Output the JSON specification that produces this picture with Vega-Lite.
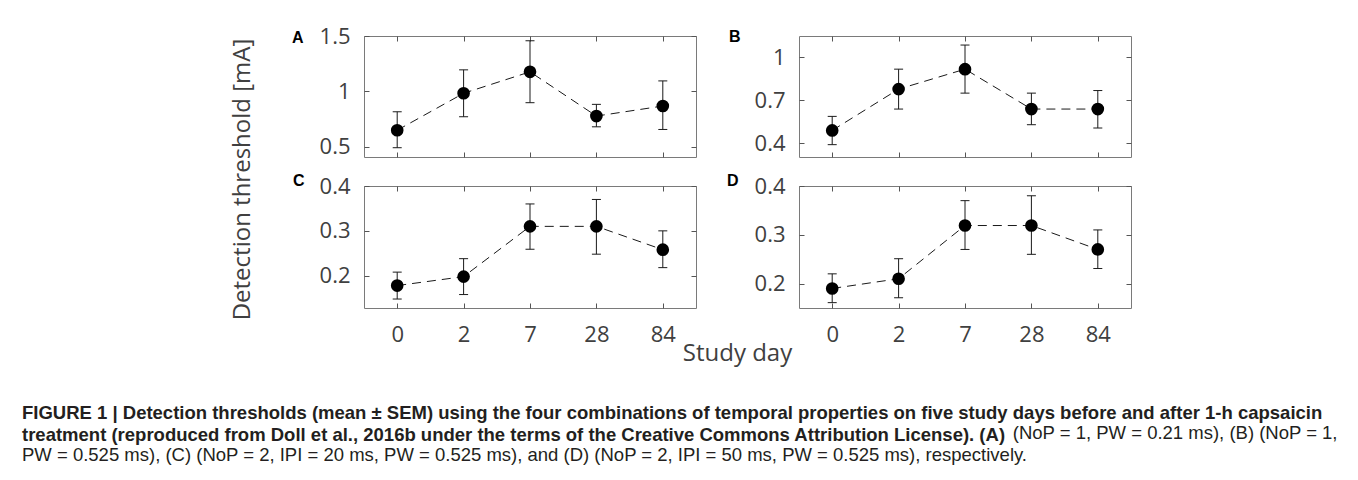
{
  "$schema": "https://vega.github.io/schema/vega-lite/v6.json",
  "padding": {"left": 22, "top": 24, "right": 20, "bottom": 5},
  "background": "white",
  "datasets": {
    "thr": [
      {"panel": "A", "day": 0, "mean": 0.648, "lo": 0.49, "hi": 0.815},
      {"panel": "A", "day": 2, "mean": 0.982, "lo": 0.77, "hi": 1.194},
      {"panel": "A", "day": 7, "mean": 1.176, "lo": 0.897, "hi": 1.457},
      {"panel": "A", "day": 28, "mean": 0.776, "lo": 0.679, "hi": 0.882},
      {"panel": "A", "day": 84, "mean": 0.867, "lo": 0.655, "hi": 1.094},
      {"panel": "B", "day": 0, "mean": 0.49, "lo": 0.391, "hi": 0.588},
      {"panel": "B", "day": 2, "mean": 0.778, "lo": 0.639, "hi": 0.917},
      {"panel": "B", "day": 7, "mean": 0.917, "lo": 0.75, "hi": 1.085},
      {"panel": "B", "day": 28, "mean": 0.639, "lo": 0.53, "hi": 0.75},
      {"panel": "B", "day": 84, "mean": 0.639, "lo": 0.507, "hi": 0.768},
      {"panel": "C", "day": 0, "mean": 0.178, "lo": 0.148, "hi": 0.208},
      {"panel": "C", "day": 2, "mean": 0.198, "lo": 0.158, "hi": 0.238},
      {"panel": "C", "day": 7, "mean": 0.31, "lo": 0.259, "hi": 0.36},
      {"panel": "C", "day": 28, "mean": 0.31, "lo": 0.248, "hi": 0.37},
      {"panel": "C", "day": 84, "mean": 0.258, "lo": 0.218, "hi": 0.3},
      {"panel": "D", "day": 0, "mean": 0.19, "lo": 0.161, "hi": 0.22},
      {"panel": "D", "day": 2, "mean": 0.21, "lo": 0.171, "hi": 0.251},
      {"panel": "D", "day": 7, "mean": 0.319, "lo": 0.27, "hi": 0.37},
      {"panel": "D", "day": 28, "mean": 0.319, "lo": 0.26, "hi": 0.38},
      {"panel": "D", "day": 84, "mean": 0.27, "lo": 0.231, "hi": 0.31}
    ]
  },
  "config": {
    "view": {"stroke": "#7a7a7a", "strokeWidth": 1},
    "axis": {
      "grid": false, "domain": false, "tickColor": "#555555", "tickSize": -5, "tickWidth": 1,
      "labelFont": "Open Sans", "labelFontSize": 22, "labelColor": "#404040",
      "titleFont": "Open Sans", "titleFontSize": 24, "titleColor": "#404040", "titleFontWeight": "normal",
      "labelFlush": false, "labelOverlap": false
    }
  },
  "title": {
    "text": [
      "FIGURE 1 | Detection thresholds (mean ± SEM) using the four combinations of temporal properties on five study days before and after 1-h capsaicin",
      "treatment (reproduced from Doll et al., 2016b under the terms of the Creative Commons Attribution License). (A)"
    ],
    "subtitle": [
      "\u200b\u2003\u2003\u2003\u2003\u2003\u2003\u2003\u2003\u2003\u2003\u2003\u2003\u2003\u2003\u2003\u2003\u2003\u2003\u2003\u2003\u2003\u2003\u2003\u2003\u2003\u2003\u2003\u2003\u2003\u2003\u2003\u2003\u2003\u2003\u2003\u2003\u2003\u2003\u2003\u2003\u2003\u2003\u2003\u2003\u2003\u2003\u2003\u2003\u2003\u2003\u2003\u2003\u2003\u00a0\u00a0(NoP = 1, PW = 0.21 ms), (B) (NoP = 1,",
      "PW = 0.525 ms), (C) (NoP = 2, IPI = 20 ms, PW = 0.525 ms), and (D) (NoP = 2, IPI = 50 ms, PW = 0.525 ms), respectively."
    ],
    "orient": "bottom", "anchor": "start", "frame": "group",
    "font": "Liberation Sans", "fontSize": 18.5, "fontWeight": "bold", "color": "#231f20", "lineHeight": 22.5,
    "subtitleFont": "Liberation Sans", "subtitleFontSize": 18.5, "subtitleFontWeight": "normal", "subtitleColor": "#231f20", "subtitleLineHeight": 22.5,
    "subtitlePadding": -21, "offset": 38, "dx": -342
  },
  "columns": 2,
  "spacing": {"row": 29, "column": 103},
  "bounds": "flush",
  "concat": [
    {
      "width": 332, "height": 121,
      "title": {"text": "A", "anchor": "start", "frame": "group", "orient": "top", "offset": 0, "baseline": "alphabetic", "dx": -72, "dy": 34, "font": "Liberation Sans", "fontSize": 16, "fontWeight": "bold", "color": "#000000"},
      "data": {"name": "thr"},
      "transform": [{"filter": "datum.panel === 'A'"}],
      "layer": [
        {"mark": {"type": "line", "color": "#1a1a1a", "strokeWidth": 1, "strokeDash": [9, 6]},
         "encoding": {
           "x": {"field": "day", "type": "ordinal", "scale": {"type": "point", "padding": 0.5}, "axis": {"orient": "bottom", "labels": false, "title": null}},
           "y": {"field": "mean", "type": "quantitative", "scale": {"domain": [0.406, 1.5], "nice": false, "zero": false}, "axis": {"orient": "left", "values": [0.5, 1, 1.5], "format": "~g", "labelPadding": 19, "title": "Detection threshold [mA]", "titleX": -115, "titleY": 143, "titleAngle": 270, "titleAlign": "center", "titleBaseline": "alphabetic"}}
         }},
        {"mark": {"type": "rule", "color": "#1a1a1a", "strokeWidth": 1},
         "encoding": {"x": {"field": "day", "type": "ordinal", "axis": null}, "y": {"field": "lo", "type": "quantitative", "axis": null}, "y2": {"field": "hi"}}},
        {"mark": {"type": "tick", "color": "#1a1a1a", "size": 9, "thickness": 1, "opacity": 1},
         "encoding": {"x": {"field": "day", "type": "ordinal", "axis": null}, "y": {"field": "lo", "type": "quantitative", "axis": null}}},
        {"mark": {"type": "tick", "color": "#1a1a1a", "size": 9, "thickness": 1, "opacity": 1},
         "encoding": {"x": {"field": "day", "type": "ordinal", "axis": null}, "y": {"field": "hi", "type": "quantitative", "axis": null}}},
        {"mark": {"type": "point", "filled": true, "color": "#000000", "opacity": 1, "size": 160},
         "encoding": {"x": {"field": "day", "type": "ordinal", "axis": {"orient": "top", "labels": false, "title": null}}, "y": {"field": "mean", "type": "quantitative", "axis": {"orient": "right", "values": [0.5, 1, 1.5], "labels": false, "title": null}}}}
      ],
      "resolve": {"axis": {"x": "independent", "y": "independent"}}
    },
    {
      "width": 332, "height": 121,
      "title": {"text": "B", "anchor": "start", "frame": "group", "orient": "top", "offset": 0, "baseline": "alphabetic", "dx": -70, "dy": 22, "font": "Liberation Sans", "fontSize": 16, "fontWeight": "bold", "color": "#000000"},
      "data": {"name": "thr"},
      "transform": [{"filter": "datum.panel === 'B'"}],
      "layer": [
        {"mark": {"type": "line", "color": "#1a1a1a", "strokeWidth": 1, "strokeDash": [9, 6]},
         "encoding": {
           "x": {"field": "day", "type": "ordinal", "scale": {"type": "point", "padding": 0.5}, "axis": {"orient": "bottom", "labels": false, "title": null}},
           "y": {"field": "mean", "type": "quantitative", "scale": {"domain": [0.305, 1.148], "nice": false, "zero": false}, "axis": {"orient": "left", "values": [0.4, 0.7, 1], "format": "~g", "labelPadding": 19, "title": null}}
         }},
        {"mark": {"type": "rule", "color": "#1a1a1a", "strokeWidth": 1},
         "encoding": {"x": {"field": "day", "type": "ordinal", "axis": null}, "y": {"field": "lo", "type": "quantitative", "axis": null}, "y2": {"field": "hi"}}},
        {"mark": {"type": "tick", "color": "#1a1a1a", "size": 9, "thickness": 1, "opacity": 1},
         "encoding": {"x": {"field": "day", "type": "ordinal", "axis": null}, "y": {"field": "lo", "type": "quantitative", "axis": null}}},
        {"mark": {"type": "tick", "color": "#1a1a1a", "size": 9, "thickness": 1, "opacity": 1},
         "encoding": {"x": {"field": "day", "type": "ordinal", "axis": null}, "y": {"field": "hi", "type": "quantitative", "axis": null}}},
        {"mark": {"type": "point", "filled": true, "color": "#000000", "opacity": 1, "size": 160},
         "encoding": {"x": {"field": "day", "type": "ordinal", "axis": {"orient": "top", "labels": false, "title": null}}, "y": {"field": "mean", "type": "quantitative", "axis": {"orient": "right", "values": [0.4, 0.7, 1], "labels": false, "title": null}}}}
      ],
      "resolve": {"axis": {"x": "independent", "y": "independent"}}
    },
    {
      "width": 332, "height": 122,
      "title": {"text": "C", "anchor": "start", "frame": "group", "orient": "top", "offset": 0, "baseline": "alphabetic", "dx": -71, "dy": 27, "font": "Liberation Sans", "fontSize": 16, "fontWeight": "bold", "color": "#000000"},
      "data": {"name": "thr"},
      "transform": [{"filter": "datum.panel === 'C'"}],
      "layer": [
        {"mark": {"type": "line", "color": "#1a1a1a", "strokeWidth": 1, "strokeDash": [9, 6]},
         "encoding": {
           "x": {"field": "day", "type": "ordinal", "scale": {"type": "point", "padding": 0.5}, "axis": {"orient": "bottom", "labelAngle": 0, "labelPadding": 21, "title": "Study day", "titleX": 373, "titleY": 52, "titleAlign": "center", "titleBaseline": "alphabetic"}},
           "y": {"field": "mean", "type": "quantitative", "scale": {"domain": [0.128, 0.4], "nice": false, "zero": false}, "axis": {"orient": "left", "values": [0.2, 0.3, 0.4], "format": "~g", "labelPadding": 19, "title": null}}
         }},
        {"mark": {"type": "rule", "color": "#1a1a1a", "strokeWidth": 1},
         "encoding": {"x": {"field": "day", "type": "ordinal", "axis": null}, "y": {"field": "lo", "type": "quantitative", "axis": null}, "y2": {"field": "hi"}}},
        {"mark": {"type": "tick", "color": "#1a1a1a", "size": 9, "thickness": 1, "opacity": 1},
         "encoding": {"x": {"field": "day", "type": "ordinal", "axis": null}, "y": {"field": "lo", "type": "quantitative", "axis": null}}},
        {"mark": {"type": "tick", "color": "#1a1a1a", "size": 9, "thickness": 1, "opacity": 1},
         "encoding": {"x": {"field": "day", "type": "ordinal", "axis": null}, "y": {"field": "hi", "type": "quantitative", "axis": null}}},
        {"mark": {"type": "point", "filled": true, "color": "#000000", "opacity": 1, "size": 160},
         "encoding": {"x": {"field": "day", "type": "ordinal", "axis": {"orient": "top", "labels": false, "title": null}}, "y": {"field": "mean", "type": "quantitative", "axis": {"orient": "right", "values": [0.2, 0.3, 0.4], "labels": false, "title": null}}}}
      ],
      "resolve": {"axis": {"x": "independent", "y": "independent"}}
    },
    {
      "width": 332, "height": 122,
      "title": {"text": "D", "anchor": "start", "frame": "group", "orient": "top", "offset": 0, "baseline": "alphabetic", "dx": -72, "dy": 27, "font": "Liberation Sans", "fontSize": 16, "fontWeight": "bold", "color": "#000000"},
      "data": {"name": "thr"},
      "transform": [{"filter": "datum.panel === 'D'"}],
      "layer": [
        {"mark": {"type": "line", "color": "#1a1a1a", "strokeWidth": 1, "strokeDash": [9, 6]},
         "encoding": {
           "x": {"field": "day", "type": "ordinal", "scale": {"type": "point", "padding": 0.5}, "axis": {"orient": "bottom", "labelAngle": 0, "labelPadding": 21, "title": null}},
           "y": {"field": "mean", "type": "quantitative", "scale": {"domain": [0.15, 0.4], "nice": false, "zero": false}, "axis": {"orient": "left", "values": [0.2, 0.3, 0.4], "format": "~g", "labelPadding": 19, "title": null}}
         }},
        {"mark": {"type": "rule", "color": "#1a1a1a", "strokeWidth": 1},
         "encoding": {"x": {"field": "day", "type": "ordinal", "axis": null}, "y": {"field": "lo", "type": "quantitative", "axis": null}, "y2": {"field": "hi"}}},
        {"mark": {"type": "tick", "color": "#1a1a1a", "size": 9, "thickness": 1, "opacity": 1},
         "encoding": {"x": {"field": "day", "type": "ordinal", "axis": null}, "y": {"field": "lo", "type": "quantitative", "axis": null}}},
        {"mark": {"type": "tick", "color": "#1a1a1a", "size": 9, "thickness": 1, "opacity": 1},
         "encoding": {"x": {"field": "day", "type": "ordinal", "axis": null}, "y": {"field": "hi", "type": "quantitative", "axis": null}}},
        {"mark": {"type": "point", "filled": true, "color": "#000000", "opacity": 1, "size": 160},
         "encoding": {"x": {"field": "day", "type": "ordinal", "axis": {"orient": "top", "labels": false, "title": null}}, "y": {"field": "mean", "type": "quantitative", "axis": {"orient": "right", "values": [0.2, 0.3, 0.4], "labels": false, "title": null}}}}
      ],
      "resolve": {"axis": {"x": "independent", "y": "independent"}}
    }
  ]
}
